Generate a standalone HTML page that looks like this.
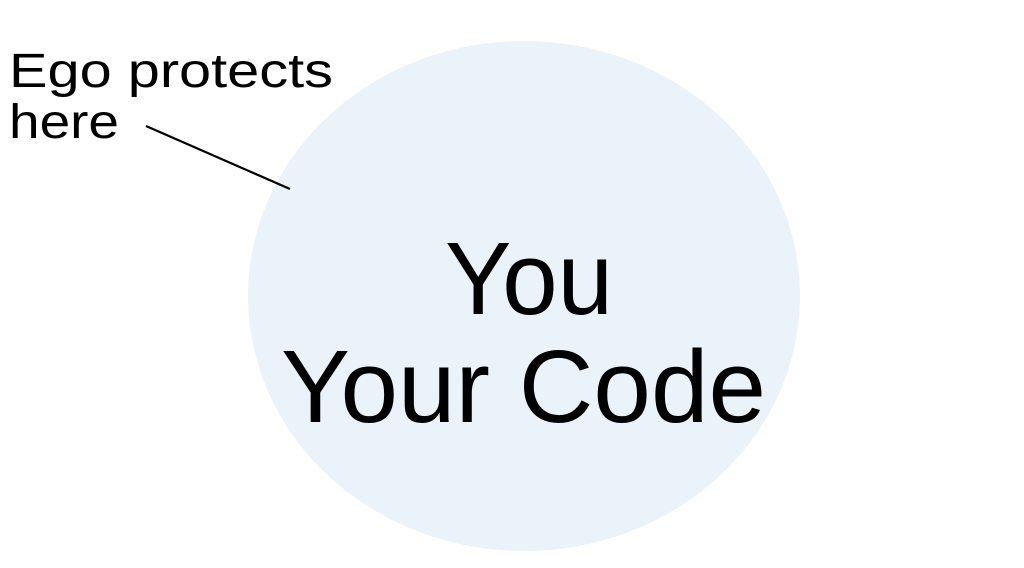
<!DOCTYPE html>
<html><head><meta charset="utf-8"><style>html,body{margin:0;padding:0;background:#fff;}svg{display:block}</style></head>
<body>
<svg width="1024" height="568" viewBox="0 0 1024 568" xmlns="http://www.w3.org/2000/svg">
<rect width="1024" height="568" fill="#fff"/>
<ellipse cx="524" cy="296" rx="276" ry="255" fill="#eaf2fa"/>
<line x1="146" y1="126" x2="290" y2="189" stroke="#000" stroke-width="2.2"/>
<g font-family="Liberation Sans, sans-serif" fill="#000">
<text x="9" y="87" font-size="48" textLength="324" lengthAdjust="spacingAndGlyphs">Ego protects</text>
<text x="9" y="138" font-size="48" textLength="110" lengthAdjust="spacingAndGlyphs">here</text>
<text x="445" y="314" font-size="103" textLength="168" lengthAdjust="spacingAndGlyphs">You</text>
<text x="281" y="422" font-size="103" textLength="485" lengthAdjust="spacingAndGlyphs">Your Code</text>
</g>
</svg>
</body></html>
